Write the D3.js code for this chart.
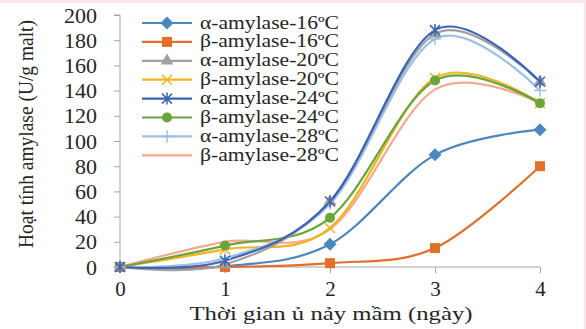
<!DOCTYPE html>
<html>
<head>
<meta charset="utf-8">
<script src="https://cdn.jsdelivr.net/npm/d3@7"></script>
<style>
  body { margin: 0; background: #fff; }
  svg { display: block; }
  text { font-family: "Liberation Serif", "Times New Roman", serif; fill: #262626; }
</style>
</head>
<body>
<svg width="586" height="329"></svg>
<script>
// days of germination
var days = [0, 1, 2, 3, 4];
var yTicks = [0, 20, 40, 60, 80, 100, 120, 140, 160, 180, 200];

var seriesNames = ['α-amylase-16ºC', 'β-amylase-16ºC', 'α-amylase-20ºC', 'β-amylase-20ºC',
                   'α-amylase-24ºC', 'β-amylase-24ºC', 'α-amylase-28ºC', 'β-amylase-28ºC'];
var alpha16 = [0, 0.5, 18, 89, 109];
var beta16  = [0, 0, 3, 15, 80];
var alpha20 = [0, 2, 52, 185, 147];
var beta20  = [0, 14, 31, 150, 130];
var alpha24 = [0, 5, 52, 188, 147];
var beta24  = [0, 17, 39, 148, 130];
var alpha28 = [0, 7, 50, 181, 140];
var beta28  = [0, 20, 30, 141, 130];
var seriesValues = [alpha16, beta16, alpha20, beta20, alpha24, beta24, alpha28, beta28];

var colors  = ['#4a86c0', '#e0702a', '#a0a0a0', '#f0b41e', '#3f62b4', '#6aa43e', '#9cc1e6', '#f6a98e'];
var markers = ['diamond', 'square', 'triangle', 'x', 'star', 'circle', 'plus', 'none'];
// draw order so that overlapping curves look like the reference
var drawOrder = [0, 1, 7, 3, 5, 6, 2, 4];

var svg = d3.select('svg');

// pink frame
svg.append('rect').attr('x', 0).attr('y', 0).attr('width', 586).attr('height', 329).attr('fill', '#fbe6ee');
svg.append('rect').attr('x', 0).attr('y', 3).attr('width', 584).attr('height', 326).attr('fill', '#fff');

var scaleX = d3.scaleLinear().domain([0, 4]).range([120, 540]);
var scaleY = d3.scaleLinear().domain([0, 200]).range([267, 15]);

// y axis
var yAxis = svg.append('g')
    .attr('transform', 'translate(120,0)')
    .call(d3.axisLeft(scaleY).tickValues(yTicks).tickFormat(d3.format('d')).tickSize(6).tickPadding(17));
yAxis.selectAll('line, path').attr('stroke', '#a6a6a6');
yAxis.select('.domain').attr('d', 'M-6,15H0V267');
yAxis.selectAll('text').style('font-size', '22px').attr('fill', '#262626');

// x axis
var xAxis = svg.append('g')
    .attr('transform', 'translate(0,267)')
    .call(d3.axisBottom(scaleX).tickValues(days).tickFormat(d3.format('d')).tickSize(6).tickPadding(8));
xAxis.selectAll('line, path').attr('stroke', '#a6a6a6');
xAxis.select('.domain').attr('d', 'M120,0H540');
xAxis.selectAll('text').style('font-size', '21px').attr('fill', '#262626');

// axis titles
svg.append('text')
    .attr('x', 331)
    .attr('y', 320)
    .attr('text-anchor', 'middle')
    .style('font-size', '19.5px')
    .attr('textLength', 283)
    .attr('lengthAdjust', 'spacingAndGlyphs')
    .text('Thời gian ủ nảy mầm (ngày)');

svg.append('text')
    .attr('transform', 'translate(33,134) rotate(270)')
    .attr('text-anchor', 'middle')
    .style('font-size', '21px')
    .attr('textLength', 228)
    .attr('lengthAdjust', 'spacingAndGlyphs')
    .text('Hoạt tính amylase (U/g malt)');

var line = d3.line()
    .x(function(d, i) { return scaleX(days[i]); })
    .y(function(d) { return scaleY(d); })
    .curve(d3.curveCardinal.tension(0));

function drawMarker(g, type, color, size) {
    if (type === 'diamond') {
        var d = size * 0.65;
        g.append('path').attr('d', 'M0,' + -d + 'L' + d + ',0L0,' + d + 'L' + -d + ',0Z').attr('fill', color);
    } else if (type === 'square') {
        g.append('rect').attr('x', -size / 2).attr('y', -size / 2).attr('width', size).attr('height', size).attr('fill', color);
    } else if (type === 'triangle') {
        g.append('path').attr('d', d3.symbol(d3.symbolTriangle, size * 7)()).attr('fill', color);
    } else if (type === 'circle') {
        g.append('circle').attr('r', size / 2).attr('fill', color);
    } else if (type === 'x') {
        var s = size / 2;
        g.append('path').attr('d', 'M' + -s + ',' + -s + 'L' + s + ',' + s + 'M' + -s + ',' + s + 'L' + s + ',' + -s)
            .attr('stroke', color).attr('stroke-width', 1.5);
    } else if (type === 'star') {
        var s2 = size / 2;
        g.append('path').attr('d', 'M' + -s2 + ',' + -s2 + 'L' + s2 + ',' + s2 + 'M' + -s2 + ',' + s2 + 'L' + s2 + ',' + -s2 + 'M0,' + -s2 * 1.2 + 'V' + s2 * 1.2)
            .attr('stroke', color).attr('stroke-width', 1.5);
    } else if (type === 'plus') {
        var s3 = size / 2 + 1;
        g.append('path').attr('d', 'M' + -s3 + ',0H' + s3 + 'M0,' + -s3 + 'V' + s3)
            .attr('stroke', color).attr('stroke-width', 1.5);
    }
}

drawOrder.forEach(function(k) {
    svg.append('path')
        .attr('d', line(seriesValues[k]))
        .attr('fill', 'none')
        .attr('stroke', colors[k])
        .attr('stroke-width', 2.2);
});
drawOrder.forEach(function(k) {
    seriesValues[k].forEach(function(v, i) {
        var g = svg.append('g').attr('transform', 'translate(' + scaleX(days[i]) + ',' + scaleY(v) + ')');
        drawMarker(g, markers[k], colors[k], 10);
    });
});

// legend
var legend = svg.append('g').attr('transform', 'translate(142,23)');
seriesNames.forEach(function(name, k) {
    var row = legend.append('g').attr('transform', 'translate(0,' + k * 18.9 + ')');
    row.append('rect').attr('x', -2).attr('y', -9).attr('width', 205).attr('height', 18).attr('fill', '#fff');
    row.append('line').attr('x1', 0).attr('x2', 50).attr('y1', 0).attr('y2', 0)
        .attr('stroke', colors[k]).attr('stroke-width', 2.2);
    drawMarker(row.append('g').attr('transform', 'translate(25,0)'), markers[k], colors[k], 10);
    row.append('text').attr('x', 58).attr('y', 5.5).style('font-size', '18px')
        .attr('textLength', 139).attr('lengthAdjust', 'spacingAndGlyphs').text(name);
});
</script>
</body>
</html>
